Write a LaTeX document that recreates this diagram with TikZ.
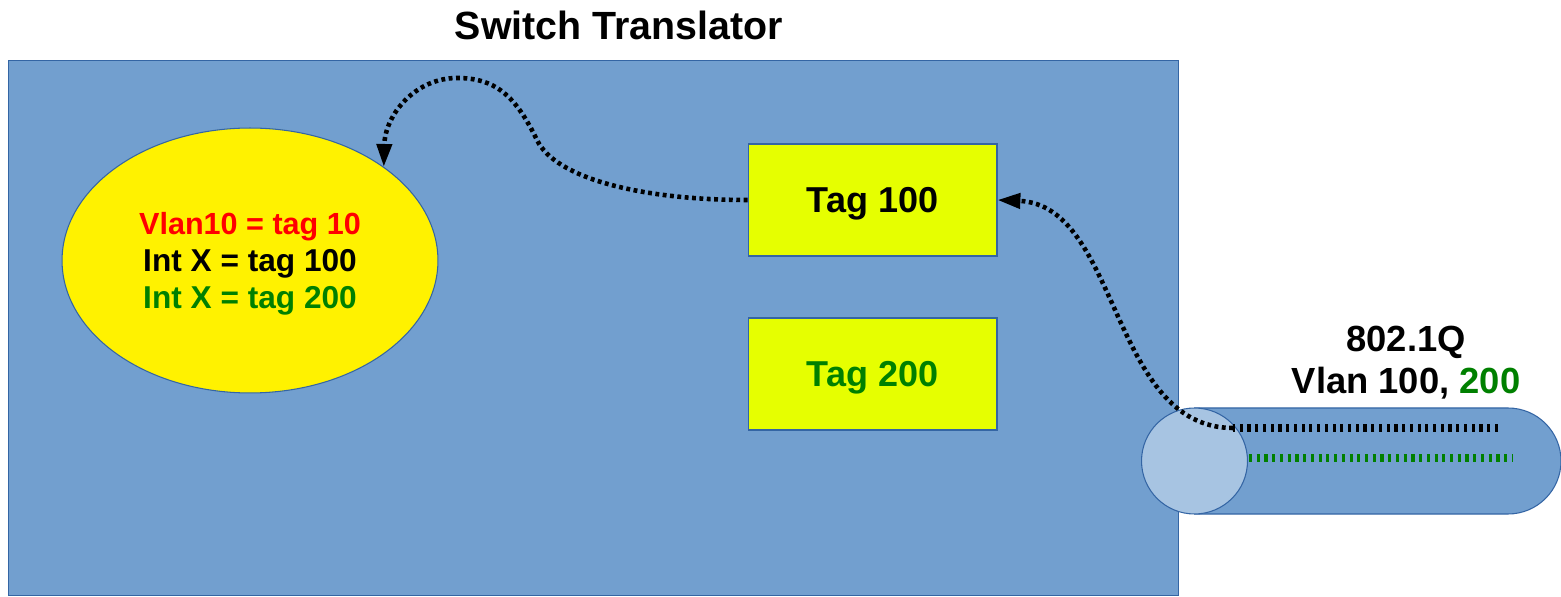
\documentclass[tikz,border=0pt]{standalone}
\usepackage{fontspec}
\setmainfont{Liberation Sans}
\usetikzlibrary{shapes.geometric,arrows.meta}
\definecolor{swblue}{HTML}{729FCF}
\definecolor{swedge}{HTML}{3465A4}
\definecolor{taglime}{HTML}{E6FF00}
\definecolor{portblue}{HTML}{A7C4E2}
\definecolor{vgreen}{HTML}{008000}
\begin{document}
\begin{tikzpicture}[x=0.02cm, y=-0.02cm,
  edge/.style={draw=swedge, line width=0.6pt},
  tagbox/.style={edge, fill=taglime, minimum width=4.98cm, minimum height=2.24cm,
    inner sep=0pt, text depth=0pt, font=\bfseries\fontsize{20.5}{24}\selectfont},
  tagflow/.style={line width=2.6pt, dash pattern=on 2.2pt off 2pt,
    -{Triangle[length=13pt,width=8.5pt]}},
  wire/.style={line width=4.2pt, dash pattern=on 1.8pt off 2.6pt}]
\useasboundingbox (0,0) rectangle (1561,597);
% switch body and title
\node[edge, fill=swblue, minimum width=23.42cm, minimum height=10.72cm, inner sep=0pt] (switch) at (593.5,328) {};
\node[font=\bfseries\fontsize{22.4}{26}\selectfont] (title) at (619,25) {Switch Translator};
% mapping table
\node[ellipse, edge, fill=yellow, minimum width=7.52cm, minimum height=5.3cm, inner sep=0pt,
  text depth=0pt, align=center, font=\bfseries\fontsize{18}{21}\selectfont] (vlanmap) at (250,260.5)
  {\textcolor{red}{\fontsize{17.4}{21}\selectfont Vlan10 = tag 10}\\Int X = tag 100\\\textcolor{vgreen}{Int X = tag 200}};
\node[tagbox] (tag100) at (872.5,200) {Tag 100};
\node[tagbox, text=vgreen] (tag200) at (872.5,374) {Tag 200};
% trunk port
\path[edge, fill=swblue] (1195,408) -- (1508,408) arc[start angle=-90, end angle=90, radius=53] -- (1195,514) -- cycle;
\node[circle, edge, fill=portblue, minimum size=2.12cm, inner sep=0pt] (port) at (1194.5,461) {};
\node[align=center, font=\bfseries\fontsize{20.7}{24}\selectfont] (trunk) at (1406,362.5)
  {802.1Q\\Vlan 100, \textcolor{vgreen}{200}};
\coordinate (wire100) at (1233,428);
\coordinate (wire100end) at (1498,428);
\coordinate (wire200) at (1249,458);
\coordinate (wire200end) at (1513,458);
\draw[wire, black] (wire100end) -- (wire100);
\draw[wire, vgreen] (wire200) -- (wire200end);
% tag flow
\draw[tagflow] (wire100) .. controls (1110,428) and (1120,205) .. (tag100.east);
\draw[tagflow] (tag100.west) .. controls (640,200) and (555,178) .. (537,140)
  .. controls (515,95) and (495,78) .. (457,78)
  .. controls (415,78) and (385,115) .. (vlanmap.35);
\end{tikzpicture}
\end{document}
